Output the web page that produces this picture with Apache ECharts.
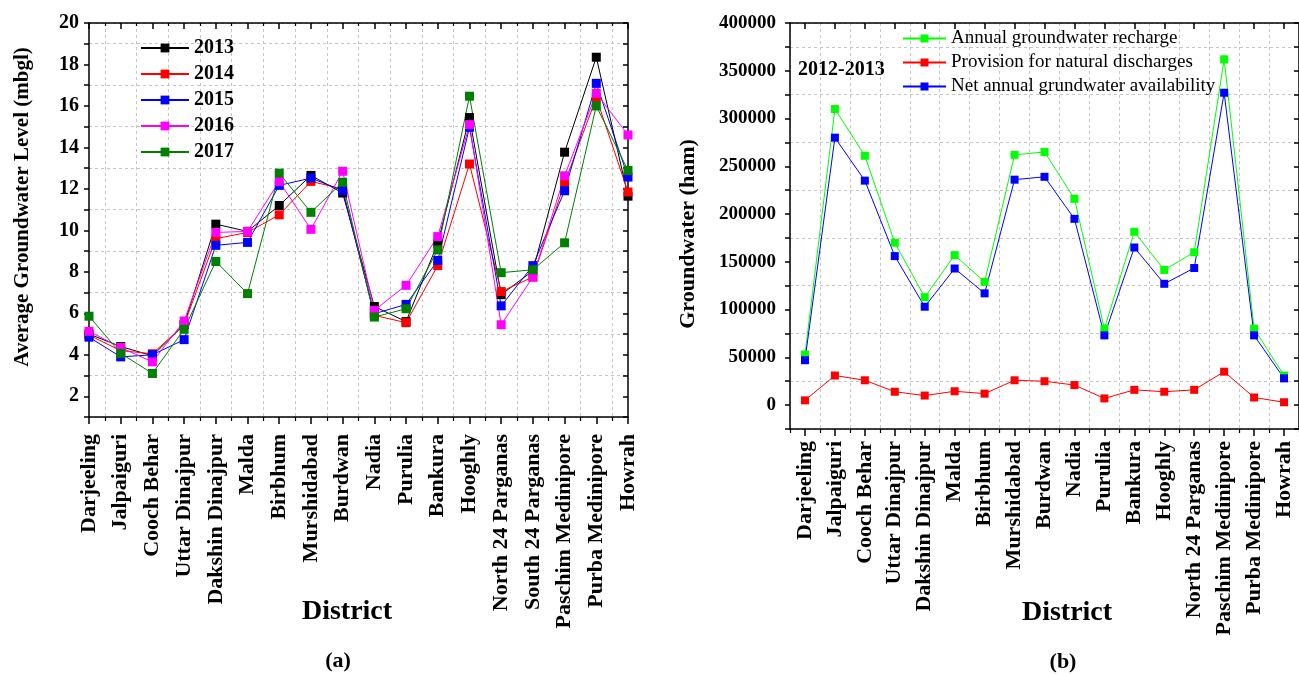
<!DOCTYPE html>
<html><head><meta charset="utf-8">
<script src="https://cdn.jsdelivr.net/npm/echarts@6/dist/echarts.min.js"></script>
<style>html,body{margin:0;padding:0;background:#fff}#c{width:1299px;height:674px}</style>
</head><body><div id="c"></div>
<script>
// ---------- Data: chart (a) ----------
const districtsA = ['Darjeeling','Jalpaiguri','Cooch Behar','Uttar Dinajpur','Dakshin Dinajpur','Malda','Birbhum','Murshidabad','Burdwan','Nadia','Purulia','Bankura','Hooghly','North 24 Parganas','South 24 Parganas','Paschim Medinipore','Purba Medinipore','Howrah'];
const years = ['2013','2014','2015','2016','2017'];
const level2013 = [5.0, 4.4, 3.95, 5.45, 10.3, 9.95, 11.2, 12.65, 11.8, 6.33, 5.6, 9.38, 15.44, 6.9, 8.05, 13.77, 18.35, 11.65];
const level2014 = [4.95, 4.2, 4.05, 5.45, 9.6, 9.9, 10.75, 12.36, 12.0, 5.9, 5.55, 8.3, 13.2, 7.05, 7.75, 12.28, 16.4, 11.85];
const level2015 = [4.85, 3.9, 4.0, 4.73, 9.28, 9.42, 12.17, 12.52, 11.92, 5.98, 6.43, 8.55, 14.97, 6.36, 8.3, 11.91, 17.09, 12.57];
const level2016 = [5.13, 4.35, 3.66, 5.63, 9.9, 9.95, 12.36, 10.05, 12.85, 6.14, 7.35, 9.7, 15.1, 5.45, 7.75, 12.63, 16.61, 14.6];
const level2017 = [5.86, 4.07, 3.1, 5.23, 8.5, 6.95, 12.76, 10.87, 12.32, 5.82, 6.22, 9.06, 16.47, 7.96, 8.1, 9.4, 16.0, 12.89];
const yearColors = ['#000000','#ff0000','#0000ff','#ff00ff','#008000'];

// ---------- Data: chart (b) ----------
const districtsB = ['Darjeeling','Jalpaiguri','Cooch Behar','Uttar Dinajpur','Dakshin Dinajpur','Malda','Birbhum','Murshidabad','Burdwan','Nadia','Purulia','Bankura','Hooghly','North 24 Parganas','Paschim Medinipore','Purba Medinipore','Howrah'];
const seriesNamesB = ['Annual groundwater recharge','Provision for natural discharges','Net annual grundwater availability'];
const recharge = [53000, 310000, 261000, 170000, 113000, 157000, 129000, 262000, 265000, 216000, 80000, 181500, 141500, 160000, 362000, 80000, 31000];
const discharge = [5000, 31000, 26000, 14000, 10000, 14500, 12000, 26000, 25000, 21000, 7000, 16000, 14000, 16000, 35000, 8000, 3000];
const netAvail = [47000, 280000, 235000, 156000, 103000, 143000, 117000, 236000, 239000, 195000, 73000, 165000, 127000, 143500, 327000, 73000, 28000];
const colorsB = ['#00ff00','#ff0000','#0000ff'];

const FONT = '"Liberation Serif", "Times New Roman", serif';
const gridLine = {show:true, lineStyle:{color:'#c4c4c4', type:[3,3], width:1}};
const blackLine = {show:true, onZero:false, lineStyle:{color:'#000', width:1.5}};

const levels = [level2013, level2014, level2015, level2016, level2017];
const seriesA = years.map((y, k) => ({
  name: y, type: 'line', xAxisIndex: 0, yAxisIndex: 0,
  data: levels[k].map((v, i) => [i, v]),
  symbol: 'rect', symbolSize: 9,
  lineStyle: {width: 1, color: yearColors[k]},
  itemStyle: {color: yearColors[k]},
  clip: true
}));
const valsB = [recharge, discharge, netAvail];
const seriesB = seriesNamesB.map((n, k) => ({
  name: n, type: 'line', xAxisIndex: 2, yAxisIndex: 3,
  data: valsB[k],
  symbol: 'rect', symbolSize: 8,
  lineStyle: {width: 1, color: colorsB[k]},
  itemStyle: {color: colorsB[k]}
}));

const option = {
  animation: false,
  backgroundColor: '#fff',
  grid: [
    {left: 89, top: 23, width: 539, height: 394},
    {left: 790, top: 23, width: 518, height: 406}
  ],
  xAxis: [
    {gridIndex: 0, type: 'value', min: 0, max: 17, interval: 1, position: 'bottom',
     axisLine: blackLine,
     axisTick: {show: true, length: 7, lineStyle: {color: '#000', width: 1.5}},
     minorTick: {show: true, splitNumber: 2, length: 4, lineStyle: {color: '#000', width: 1.2}},
     splitLine: {show: false},
     minorSplitLine: gridLine,
     axisLabel: {rotate: 90, margin: 17, color: '#000', fontFamily: FONT, fontWeight: 'bold', fontSize: 22,
       formatter: v => districtsA[Math.round(v)] || ''}},
    {gridIndex: 0, type: 'value', min: 0, max: 17, interval: 1, position: 'top',
     axisLine: blackLine,
     axisTick: {show: true, inside: true, length: 6, lineStyle: {color: '#000', width: 1.5}},
     minorTick: {show: true, splitNumber: 2, length: 3, lineStyle: {color: '#000', width: 1.2}},
     splitLine: {show: false}, axisLabel: {show: false}},
    {gridIndex: 1, type: 'category', data: districtsB, boundaryGap: true, position: 'bottom',
     axisLine: blackLine,
     axisTick: {show: true, alignWithLabel: true, interval: 0, length: 7, lineStyle: {color: '#000', width: 1.5}},
     splitLine: {show: false},
     axisLabel: {interval: 0, rotate: 90, margin: 12, color: '#000', fontFamily: FONT, fontWeight: 'bold', fontSize: 22}},
    {gridIndex: 1, type: 'category', data: districtsB, boundaryGap: true, position: 'bottom',
     axisLine: {show: false, onZero: false},
     axisTick: {show: true, interval: 0, length: 4, lineStyle: {color: '#000', width: 1.2}},
     splitLine: {show: true, interval: 0, lineStyle: {color: '#c4c4c4', type: [3,3], width: 1}},
     axisLabel: {show: false}},
    {gridIndex: 1, type: 'category', data: districtsB, boundaryGap: true, position: 'top',
     axisLine: blackLine,
     axisTick: {show: true, inside: true, alignWithLabel: true, interval: 0, length: 6, lineStyle: {color: '#000', width: 1.5}},
     splitLine: {show: false}, axisLabel: {show: false}}
  ],
  yAxis: [
    {gridIndex: 0, type: 'value', min: 1, max: 20, interval: 1, position: 'left',
     axisLine: blackLine,
     axisTick: {show: true, length: 5, lineStyle: {color: '#000', width: 1.5}},
     splitLine: {show: false},
     axisLabel: {margin: 10, color: '#000', fontFamily: FONT, fontWeight: 'bold', fontSize: 20,
       formatter: v => (Math.round(v) % 2 === 0 ? String(Math.round(v)) : '')}},
    {gridIndex: 0, type: 'value', min: 1, max: 20, interval: 1, position: 'right',
     axisLine: blackLine,
     axisTick: {show: true, inside: true, length: 5, lineStyle: {color: '#000', width: 1.5}},
     splitLine: {show: false}, axisLabel: {show: false}},
    {gridIndex: 0, type: 'value', min: 0, max: 19, interval: 2, position: 'left',
     axisLine: {show: false}, axisTick: {show: false}, axisLabel: {show: false},
     splitLine: gridLine},
    {gridIndex: 1, type: 'value', min: -25000, max: 400000, interval: 25000, position: 'left',
     axisLine: blackLine,
     axisTick: {show: true, length: 5, lineStyle: {color: '#000', width: 1.5}},
     splitLine: {show: false},
     axisLabel: {margin: 14, color: '#000', fontFamily: FONT, fontWeight: 'bold', fontSize: 19,
       formatter: v => (v >= 0 && Math.round(v) % 50000 === 0 ? String(Math.round(v)) : '')}},
    {gridIndex: 1, type: 'value', min: -25000, max: 400000, interval: 25000, position: 'right',
     axisLine: blackLine,
     axisTick: {show: true, inside: true, length: 5, lineStyle: {color: '#000', width: 1.5}},
     splitLine: {show: false}, axisLabel: {show: false}},
    {gridIndex: 1, type: 'value', min: 0, max: 425000, interval: 50000, position: 'left',
     axisLine: {show: false}, axisTick: {show: false}, axisLabel: {show: false},
     splitLine: gridLine}
  ],
  legend: [
    {data: years, orient: 'vertical', left: 140, top: 38, padding: 0,
     itemWidth: 48, itemHeight: 11, itemGap: 6, selectedMode: false,
     textStyle: {fontFamily: FONT, fontWeight: 'bold', fontSize: 20, lineHeight: 19, color: '#000'}},
    {data: seriesNamesB, orient: 'vertical', left: 902, top: 29, padding: 0,
     itemWidth: 43, itemHeight: 10, itemGap: 5, selectedMode: false,
     textStyle: {fontFamily: FONT, fontSize: 19, lineHeight: 18, color: '#000'}}
  ],
  graphic: [
    {type: 'text', x: 23, y: 207, rotation: Math.PI / 2,
     style: {text: 'Average Groundwater Level (mbgl)', font: 'bold 21px ' + FONT, fill: '#000', textAlign: 'center', textVerticalAlign: 'middle'}},
    {type: 'text', x: 688, y: 234, rotation: Math.PI / 2,
     style: {text: 'Groundwater (ham)', font: 'bold 22px ' + FONT, fill: '#000', textAlign: 'center', textVerticalAlign: 'middle'}},
    {type: 'text', x: 347, y: 612,
     style: {text: 'District', font: 'bold 28px ' + FONT, fill: '#000', textAlign: 'center', textVerticalAlign: 'middle'}},
    {type: 'text', x: 1067, y: 613,
     style: {text: 'District', font: 'bold 28px ' + FONT, fill: '#000', textAlign: 'center', textVerticalAlign: 'middle'}},
    {type: 'text', x: 338, y: 661,
     style: {text: '(a)', font: 'bold 22px ' + FONT, fill: '#000', textAlign: 'center', textVerticalAlign: 'middle'}},
    {type: 'text', x: 1063, y: 662,
     style: {text: '(b)', font: 'bold 22px ' + FONT, fill: '#000', textAlign: 'center', textVerticalAlign: 'middle'}},
    {type: 'text', x: 798, y: 70,
     style: {text: '2012-2013', font: 'bold 20px ' + FONT, fill: '#000', textAlign: 'left', textVerticalAlign: 'middle'}}
  ],
  series: seriesA.concat(seriesB)
};

const chart = echarts.init(document.getElementById('c'), null, {renderer: 'canvas'});
chart.setOption(option);
</script>
</body></html>
